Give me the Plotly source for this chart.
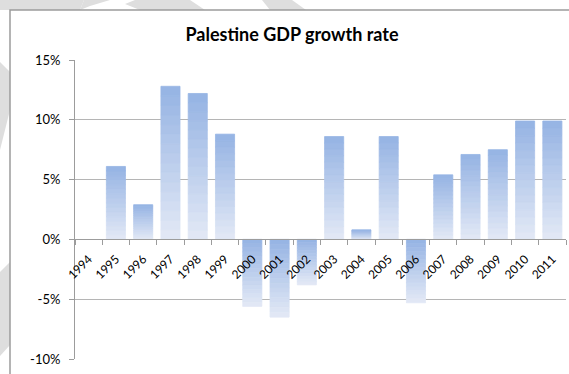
import plotly.graph_objects as go

# ---- data ----
years = [str(y) for y in range(1994, 2012)]
growth = [None, 6.1, 2.9, 12.8, 12.2, 8.8, -5.6, -6.5, -3.8, 8.6, 0.8, 8.6, -5.3,
          5.4, 7.1, 7.5, 9.9, 9.9]
y_ticks = [-10, -5, 0, 5, 10, 15]
y_labels = ["-10%", "-5%", "0%", "5%", "10%", "15%"]
title_text = "Palestine GDP growth rate"

# ---- style ----
W, H = 569, 374
L, R, T, B = 75, 3, 60, 15
N_SEG = 16
dark = (149, 179, 227)
light = (227, 233, 246)


def mix(t):
    return "rgb(%d,%d,%d)" % tuple(round(light[i] + (dark[i] - light[i]) * t) for i in range(3))


fig = go.Figure()
# gradient bars: each bar split into equal stacked slices (relative stacking)
for k in range(N_SEG):
    t = (k + 0.5) / N_SEG
    vals = [None if v is None else v / N_SEG for v in growth]
    cols = [mix(t) if (v is not None and v >= 0) else mix(1 - t) for v in growth]
    fig.add_trace(go.Bar(
        x=years, y=vals, marker=dict(color=cols, line=dict(width=0.8, color=cols)),
        showlegend=False, hoverinfo="skip" if k else "x+y",
        customdata=growth, hovertemplate="%{x}: %{customdata}%<extra></extra>",
    ))

pw, ph = W - L - R, H - T - B


def px(x):
    return (x - L) / pw


def py(y):
    return (H - B - y) / ph


def poly(pts, color):
    d = "M " + " L ".join("%f,%f" % (px(a), py(b)) for a, b in pts) + " Z"
    return dict(type="path", xref="paper", yref="paper", path=d,
                fillcolor=color, line=dict(width=0), layer="below")


wm = "#dedede"
shapes = [
    poly([(0, 0), (84, 0), (80, 10), (0, 10)], wm),
    poly([(84, 0), (110, 0), (90, 6), (80, 10)], wm),
    poly([(135, 0), (190, 0), (205, 10), (140, 10), (125, 4)], wm),
    poly([(262, 0), (292, 0), (306, 10), (270, 10)], wm),
    poly([(0, 62), (10, 72), (10, 110), (0, 150)], wm),
    poly([(0, 272), (10, 262), (10, 345), (0, 356)], wm),
    dict(type="rect", xref="paper", yref="paper",
         x0=px(10), x1=px(600), y0=py(10), y1=py(400),
         line=dict(color="#9c9c9c", width=1.5), fillcolor="rgba(0,0,0,0)", layer="below"),
]

font = "Lato, 'Open Sans', Arial, sans-serif"
fig.update_layout(
    width=W, height=H,
    margin=dict(l=L, r=R, t=T, b=B),
    barmode="relative", bargap=0.3,
    paper_bgcolor="white", plot_bgcolor="white",
    font=dict(family=font, size=13, color="#000000"),
    title=dict(text="<b>%s</b>" % title_text, font=dict(size=18, family=font, color="#000"),
               x=px(292), xref="paper", xanchor="center",
               y=1 - 35 / H, yref="container", yanchor="middle"),
    shapes=shapes,
    xaxis=dict(
        type="category", range=[-0.5, len(years) - 0.5],
        anchor="free", position=(0 - y_ticks[0]) / (y_ticks[-1] - y_ticks[0]),
        showline=True, linecolor="#9c9c9c", linewidth=1,
        ticks="outside", tickson="boundaries", ticklen=5, tickcolor="#9c9c9c",
        tickangle=-45, showgrid=False, zeroline=False, ticklabelstandoff=7,
        tickfont=dict(size=12, family=font),
    ),
    yaxis=dict(
        range=[y_ticks[0], y_ticks[-1]], tickmode="array",
        tickvals=y_ticks, ticktext=y_labels,
        showgrid=True, gridcolor="#b5b5b5", gridwidth=1,
        showline=True, linecolor="#9c9c9c", linewidth=1,
        ticks="outside", ticklen=5, tickcolor="#9c9c9c", ticklabelstandoff=6,
        zeroline=False, tickfont=dict(size=13, family=font),
    ),
)

fig.write_html("out.html")
